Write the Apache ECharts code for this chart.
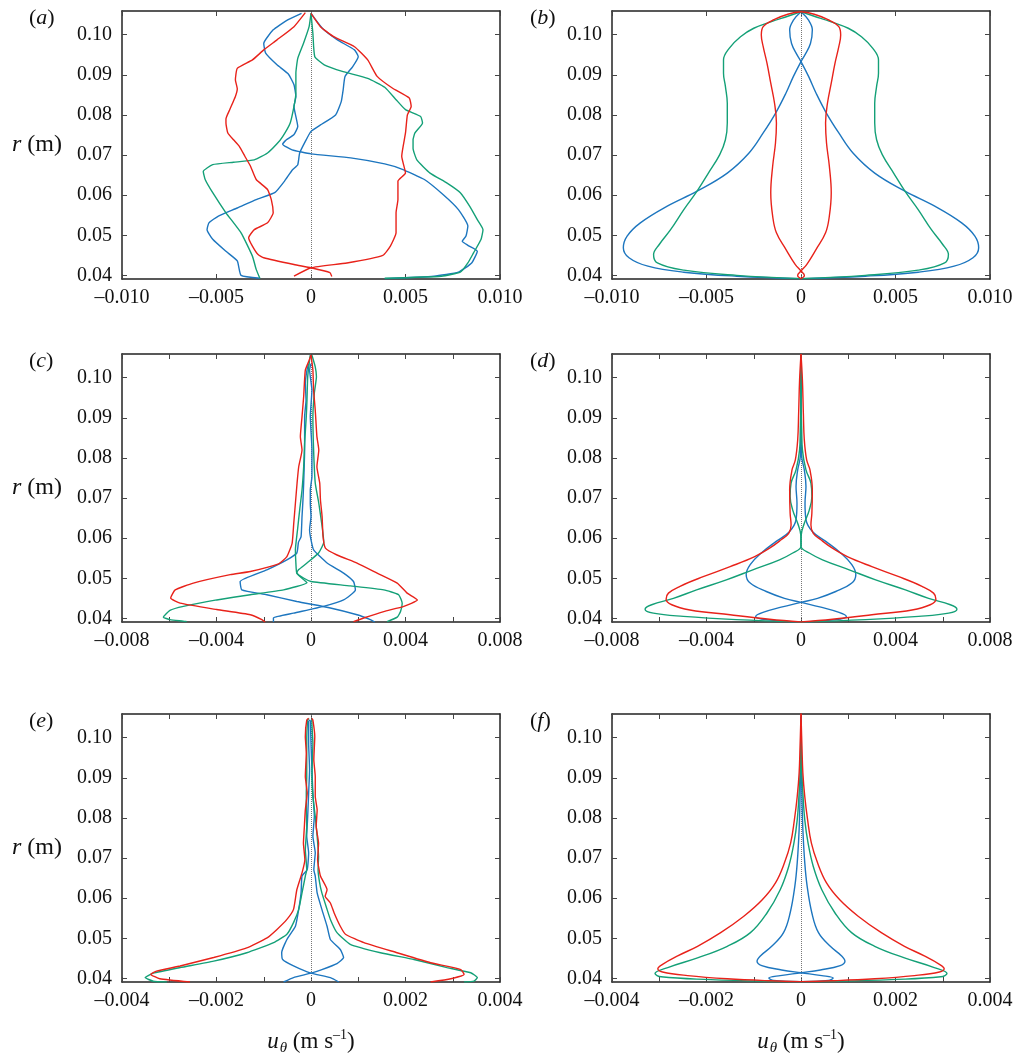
<!DOCTYPE html>
<html>
<head>
<meta charset="utf-8">
<script src="https://cdn.jsdelivr.net/npm/echarts@6/dist/echarts.min.js"></script>
<style>
  html, body { margin: 0; padding: 0; background: #fff; }
  #chart { width: 1022px; height: 1061px; }
</style>
</head>
<body>
<div id="chart"></div>
<script>
const FONT = '"Liberation Serif", "Times New Roman", serif';
const COLORS = { red: '#e8221a', green: '#14a077', blue: '#1d76bf' };

// radial axis (shared by all panels)
const R_MIN = 0.0391;
const R_MAX = 0.1059;
const rTicks = [0.04, 0.05, 0.06, 0.07, 0.08, 0.09, 0.10];

// u_theta axes
const uTicksAB = [-0.010, -0.005, 0, 0.005, 0.010];
const uLabelsAB = [-0.010, -0.005, 0, 0.005, 0.010];
const uTicksCD = [-0.008, -0.006, -0.004, -0.002, 0, 0.002, 0.004, 0.006, 0.008];
const uLabelsCD = [-0.008, -0.004, 0, 0.004, 0.008];
const uTicksEF = [-0.004, -0.003, -0.002, -0.001, 0, 0.001, 0.002, 0.003, 0.004];
const uLabelsEF = [-0.004, -0.002, 0, 0.002, 0.004];

// ---- (a) measured, [u, r] ----
const aRed1 = [[-0.0003,0.1055],[-0.0009,0.1020],[-0.0018,0.0987],[-0.0025,0.0962],[-0.0031,0.0937],[-0.0039,0.0916],[-0.0040,0.0887],[-0.0039,0.0865],[-0.0040,0.0846],[-0.0043,0.0813],[-0.0045,0.0790],[-0.0045,0.0780],[-0.0044,0.0755],[-0.0041,0.0738],[-0.0038,0.0722],[-0.0035,0.0697],[-0.0032,0.0672],[-0.0029,0.0639],[-0.0023,0.0614],[-0.0021,0.0589],[-0.0020,0.0556],[-0.0023,0.0531],[-0.0030,0.0514],[-0.0033,0.0494],[-0.0031,0.0473],[-0.0028,0.0452],[-0.0025,0.0444],[-0.0009,0.0427],[0.0000,0.0419],[0.0010,0.0407],[0.0011,0.0397]];
const aRed2 = [[0.0000,0.1053],[0.0005,0.1020],[0.0012,0.0995],[0.0023,0.0970],[0.0030,0.0937],[0.0035,0.0896],[0.0043,0.0867],[0.0052,0.0842],[0.0053,0.0821],[0.0051,0.0800],[0.0050,0.0755],[0.0048,0.0697],[0.0050,0.0655],[0.0046,0.0635],[0.0046,0.0589],[0.0045,0.0556],[0.0045,0.0506],[0.0042,0.0473],[0.0038,0.0450],[0.0019,0.0431],[0.0000,0.0419],[-0.0009,0.0398]];
const aGreen1 = [[0.0000,0.1053],[-0.0001,0.1020],[-0.0004,0.0978],[-0.0007,0.0941],[-0.0008,0.0904],[-0.0008,0.0854],[-0.0009,0.0821],[-0.0011,0.0780],[-0.0015,0.0746],[-0.0018,0.0728],[-0.0023,0.0705],[-0.0030,0.0688],[-0.0041,0.0682],[-0.0052,0.0676],[-0.0057,0.0659],[-0.0056,0.0639],[-0.0052,0.0606],[-0.0045,0.0556],[-0.0037,0.0506],[-0.0031,0.0448],[-0.0029,0.0415],[-0.0027,0.0392]];
const aGreen2 = [[0.0000,0.1053],[0.0001,0.1003],[0.0002,0.0945],[0.0007,0.0925],[0.0017,0.0908],[0.0030,0.0891],[0.0039,0.0869],[0.0045,0.0838],[0.0050,0.0813],[0.0058,0.0796],[0.0059,0.0780],[0.0055,0.0755],[0.0054,0.0738],[0.0054,0.0717],[0.0056,0.0688],[0.0063,0.0655],[0.0072,0.0630],[0.0079,0.0606],[0.0084,0.0572],[0.0088,0.0539],[0.0091,0.0514],[0.0090,0.0490],[0.0086,0.0456],[0.0083,0.0431],[0.0079,0.0408],[0.0069,0.0398],[0.0039,0.0393]];
const aBlue1 = [[-0.0005,0.1053],[-0.0013,0.1035],[-0.0020,0.1012],[-0.0025,0.0978],[-0.0024,0.0954],[-0.0018,0.0925],[-0.0012,0.0902],[-0.0009,0.0875],[-0.0008,0.0846],[-0.0009,0.0821],[-0.0007,0.0771],[-0.0009,0.0751],[-0.0013,0.0738],[-0.0015,0.0727],[-0.0010,0.0713],[0.0000,0.0703],[0.0021,0.0693],[0.0039,0.0678],[0.0048,0.0665],[0.0060,0.0639],[0.0070,0.0601],[0.0078,0.0564],[0.0083,0.0523],[0.0082,0.0498],[0.0080,0.0485],[0.0083,0.0475],[0.0088,0.0460],[0.0085,0.0431],[0.0078,0.0408],[0.0065,0.0398],[0.0039,0.0392]];
const aBlue2 = [[0.0000,0.1053],[0.0006,0.1016],[0.0014,0.0987],[0.0023,0.0962],[0.0025,0.0945],[0.0022,0.0920],[0.0018,0.0896],[0.0017,0.0862],[0.0016,0.0833],[0.0013,0.0800],[0.0005,0.0775],[0.0000,0.0759],[-0.0003,0.0734],[-0.0006,0.0705],[-0.0007,0.0676],[-0.0010,0.0662],[-0.0014,0.0635],[-0.0019,0.0607],[-0.0029,0.0589],[-0.0039,0.0568],[-0.0049,0.0548],[-0.0054,0.0531],[-0.0055,0.0514],[-0.0052,0.0490],[-0.0045,0.0460],[-0.0039,0.0436],[-0.0037,0.0400],[-0.0027,0.0393]];

// ---- (b) model ----
const bBlue1 = [[0,0.1057],[0.0004,0.1036],[0.0006,0.1012],[0.0005,0.0978],[0.0002,0.0949],[0,0.0933],[-0.0004,0.0896],[-0.0008,0.0854],[-0.00135,0.0804],[-0.0020,0.0755],[-0.00275,0.0705],[-0.0039,0.0655],[-0.0055,0.0610],[-0.0071,0.0572],[-0.0085,0.0531],[-0.0092,0.0498],[-0.0094,0.0469],[-0.0091,0.0444],[-0.0081,0.0423],[-0.0062,0.0408],[-0.0034,0.0398],[0,0.0392]];
const bBlue2 = [[0,0.1057],[-0.0004,0.1036],[-0.0006,0.1012],[-0.0005,0.0978],[-0.0002,0.0949],[0,0.0933],[0.0004,0.0896],[0.0008,0.0854],[0.00135,0.0804],[0.0020,0.0755],[0.00275,0.0705],[0.0039,0.0655],[0.0055,0.0610],[0.0071,0.0572],[0.0085,0.0531],[0.0092,0.0498],[0.0094,0.0469],[0.0091,0.0444],[0.0081,0.0423],[0.0062,0.0408],[0.0034,0.0398],[0,0.0392]];
const bGreen1 = [[0,0.1057],[-0.0007,0.1046],[-0.0016,0.1032],[-0.0025,0.1016],[-0.0032,0.0995],[-0.0038,0.0966],[-0.0041,0.0937],[-0.0041,0.0904],[-0.0040,0.0871],[-0.0039,0.0829],[-0.0039,0.0780],[-0.0040,0.0738],[-0.0043,0.0701],[-0.0049,0.0655],[-0.0055,0.0610],[-0.0062,0.0564],[-0.0069,0.0514],[-0.0075,0.0477],[-0.0078,0.0452],[-0.0076,0.0431],[-0.0062,0.0413],[-0.0034,0.0400],[0,0.0392]];
const bGreen2 = [[0,0.1057],[0.0007,0.1046],[0.0016,0.1032],[0.0025,0.1016],[0.0032,0.0995],[0.0038,0.0966],[0.0041,0.0937],[0.0041,0.0904],[0.0040,0.0871],[0.0039,0.0829],[0.0039,0.0780],[0.0040,0.0738],[0.0043,0.0701],[0.0049,0.0655],[0.0055,0.0610],[0.0062,0.0564],[0.0069,0.0514],[0.0075,0.0477],[0.0078,0.0452],[0.0076,0.0431],[0.0062,0.0413],[0.0034,0.0400],[0,0.0392]];
const bRed1 = [[0,0.1057],[-0.0007,0.1051],[-0.0014,0.1038],[-0.0020,0.1020],[-0.0021,0.0999],[-0.0020,0.0970],[-0.0018,0.0929],[-0.0016,0.0879],[-0.0014,0.0829],[-0.0013,0.0780],[-0.00135,0.0730],[-0.0015,0.0672],[-0.0016,0.0606],[-0.0015,0.0548],[-0.0013,0.0506],[-0.0008,0.0465],[-0.0003,0.0427],[0,0.0411],[0.00018,0.0400],[0,0.0392]];
const bRed2 = [[0,0.1057],[0.0007,0.1051],[0.0014,0.1038],[0.0020,0.1020],[0.0021,0.0999],[0.0020,0.0970],[0.0018,0.0929],[0.0016,0.0879],[0.0014,0.0829],[0.0013,0.0780],[0.00135,0.0730],[0.0015,0.0672],[0.0016,0.0606],[0.0015,0.0548],[0.0013,0.0506],[0.0008,0.0465],[0.0003,0.0427],[0,0.0411],[-0.00018,0.0400],[0,0.0392]];

// ---- (c) measured ----
const cRed1 = [[0,0.1056],[-0.0001,0.1040],[-0.00024,0.1019],[-0.00028,0.0986],[-0.00031,0.0953],[-0.00038,0.0903],[-0.00045,0.0853],[-0.00038,0.0820],[-0.00052,0.0778],[-0.00059,0.0737],[-0.00066,0.0687],[-0.00073,0.0637],[-0.0008,0.0587],[-0.00102,0.0554],[-0.00137,0.0536],[-0.00257,0.0517],[-0.00342,0.0509],[-0.00498,0.0488],[-0.00575,0.0471],[-0.00594,0.0451],[-0.00554,0.0438],[-0.00399,0.0422],[-0.00257,0.0409],[-0.00208,0.0397],[-0.00194,0.0391]];
const cRed2 = [[0,0.1056],[0.00008,0.1019],[0.00011,0.0969],[0.00018,0.0919],[0.00025,0.0853],[0.00033,0.0820],[0.00025,0.0778],[0.00037,0.0737],[0.0004,0.0695],[0.00047,0.0654],[0.00051,0.0604],[0.00061,0.0575],[0.0011,0.0558],[0.00195,0.0538],[0.0028,0.0513],[0.00365,0.0488],[0.00407,0.0463],[0.0045,0.0446],[0.00393,0.0430],[0.00308,0.0417],[0.00223,0.0401],[0.0018,0.0392]];
const cGreen1 = [[-0.00003,0.1056],[-0.00006,0.1044],[-0.00014,0.1002],[-0.00017,0.0944],[-0.0002,0.0903],[-0.00027,0.0836],[-0.00031,0.0778],[-0.00038,0.0720],[-0.00048,0.0670],[-0.00057,0.0621],[-0.00066,0.0571],[-0.00064,0.0538],[-0.0006,0.0513],[-0.0003,0.0500],[0,0.0492],[0.00167,0.0481],[0.00308,0.0471],[0.00371,0.0459],[0.00386,0.0438],[0.00379,0.0417],[0.00365,0.0403],[0.00322,0.0392]];
const cGreen2 = [[0.00004,0.1056],[0.00018,0.1027],[0.00023,0.1002],[0.00014,0.0961],[0.00008,0.0903],[0.00011,0.0820],[0.00018,0.0737],[0.00033,0.0687],[0.00047,0.0629],[0.00054,0.0590],[0.00032,0.0563],[-0.00017,0.0538],[-0.00053,0.0521],[-0.0006,0.0513],[-0.00038,0.0500],[-0.00017,0.0489],[-0.00116,0.0471],[-0.00257,0.0459],[-0.00399,0.0446],[-0.0054,0.0430],[-0.00597,0.0420],[-0.00625,0.0403],[-0.00597,0.0397],[-0.00526,0.0392]];
const cBlue1 = [[-0.0001,0.1035],[-0.00017,0.1019],[-0.00024,0.0986],[-0.00021,0.0944],[-0.00027,0.0903],[-0.00027,0.0820],[-0.00031,0.0737],[-0.00034,0.0695],[-0.00038,0.0654],[-0.00042,0.0604],[-0.00053,0.0590],[-0.0006,0.0563],[-0.00102,0.0546],[-0.00187,0.0521],[-0.003,0.0492],[-0.00293,0.0471],[-0.00187,0.0459],[-0.0006,0.0442],[0.00082,0.0426],[0.00195,0.0409],[0.00251,0.0397],[0.0027,0.0391]];
const cBlue2 = [[0,0.1035],[-0.00006,0.1019],[0.00004,0.0969],[-0.00003,0.0903],[0.00004,0.0820],[0.00004,0.0753],[-0.00003,0.0720],[-0.00003,0.0687],[0,0.0654],[-0.00006,0.0621],[0,0.0596],[0.00011,0.0571],[0.00068,0.0538],[0.00138,0.0513],[0.0018,0.0492],[0.00188,0.0471],[0.00138,0.0446],[0.00053,0.0430],[-0.00074,0.0413],[-0.00159,0.0401],[-0.00159,0.0391]];

// ---- (d) model ----
const dRed1 = [[0,0.1059],[-0.00006,0.0994],[-0.0001,0.0911],[-0.00014,0.0845],[-0.00024,0.0795],[-0.00038,0.0770],[-0.00048,0.0720],[-0.00046,0.0662],[-0.00042,0.0633],[-0.00052,0.0612],[-0.00084,0.0596],[-0.00133,0.0575],[-0.00196,0.0554],[-0.0030,0.0529],[-0.00414,0.0504],[-0.00512,0.0480],[-0.00561,0.0463],[-0.00571,0.0448],[-0.00547,0.0434],[-0.0047,0.0421],[-0.0030,0.0409],[-0.00133,0.0398],[0,0.0391]];
const dRed2 = [[0,0.1059],[0.00006,0.0994],[0.0001,0.0911],[0.00014,0.0845],[0.00024,0.0795],[0.00038,0.0770],[0.00048,0.0720],[0.00046,0.0662],[0.00042,0.0633],[0.00052,0.0612],[0.00084,0.0596],[0.00133,0.0575],[0.00196,0.0554],[0.0030,0.0529],[0.00414,0.0504],[0.00512,0.0480],[0.00561,0.0463],[0.00571,0.0448],[0.00547,0.0434],[0.0047,0.0421],[0.0030,0.0409],[0.00133,0.0398],[0,0.0391]];
const dGreen1 = [[0,0.1059],[0,0.0953],[0.00003,0.0870],[0.00006,0.0820],[0.00021,0.0770],[0.00042,0.0737],[0.00046,0.0704],[0.00035,0.0670],[0.00014,0.0637],[0.00001,0.0608],[0,0.0579],[-0.00035,0.0563],[-0.00091,0.0546],[-0.00204,0.0521],[-0.00316,0.0496],[-0.00442,0.0471],[-0.0054,0.0450],[-0.00632,0.0434],[-0.0066,0.0423],[-0.00625,0.0413],[-0.00498,0.0405],[-0.00274,0.0397],[0,0.0391]];
const dGreen2 = [[0,0.1059],[0,0.0953],[-0.00003,0.0870],[-0.00006,0.0820],[-0.00021,0.0770],[-0.00042,0.0737],[-0.00046,0.0704],[-0.00035,0.0670],[-0.00014,0.0637],[-0.00001,0.0608],[0,0.0579],[0.00035,0.0563],[0.00091,0.0546],[0.00204,0.0521],[0.00316,0.0496],[0.00442,0.0471],[0.0054,0.0450],[0.00632,0.0434],[0.0066,0.0423],[0.00625,0.0413],[0.00498,0.0405],[0.00274,0.0397],[0,0.0391]];
const dBlue1 = [[0,0.1055],[0,0.0870],[0.00003,0.0803],[0.00014,0.0770],[0.00021,0.0729],[0.00017,0.0687],[0.00021,0.0646],[0.00049,0.0616],[0.00105,0.0592],[0.00168,0.0563],[0.00215,0.0534],[0.00232,0.0509],[0.00215,0.0488],[0.00147,0.0467],[0.0007,0.0450],[0,0.0440],[-0.00084,0.0428],[-0.00161,0.0415],[-0.00192,0.0405],[-0.00147,0.0397],[0,0.0391]];
const dBlue2 = [[0,0.1055],[0,0.0870],[-0.00003,0.0803],[-0.00014,0.0770],[-0.00021,0.0729],[-0.00017,0.0687],[-0.00021,0.0646],[-0.00049,0.0616],[-0.00105,0.0592],[-0.00168,0.0563],[-0.00215,0.0534],[-0.00232,0.0509],[-0.00215,0.0488],[-0.00147,0.0467],[-0.0007,0.0450],[0,0.0440],[0.00084,0.0428],[0.00161,0.0415],[0.00192,0.0405],[0.00147,0.0397],[0,0.0391]];

// ---- (e) measured ----
const eRed1 = [[-0.00005,0.1048],[-0.00009,0.1044],[-0.00012,0.1003],[-0.0001,0.0961],[-0.00012,0.0903],[-0.00008,0.0862],[-0.00012,0.0820],[-0.00014,0.0779],[-0.00016,0.0737],[-0.00013,0.0696],[-0.00019,0.0663],[-0.0003,0.0621],[-0.00037,0.0572],[-0.00051,0.0547],[-0.00072,0.0522],[-0.00093,0.0501],[-0.00136,0.0476],[-0.00206,0.0452],[-0.00277,0.0431],[-0.00327,0.0418],[-0.00339,0.0410],[-0.0032,0.0399],[-0.00256,0.0391]];
const eRed2 = [[0.00002,0.1048],[0.00004,0.1044],[0.00008,0.1003],[0.00006,0.0945],[0.00009,0.0903],[0.00009,0.0854],[0.00013,0.0820],[0.00011,0.0779],[0.00016,0.0737],[0.00014,0.0696],[0.0002,0.0655],[0.00034,0.0621],[0.0003,0.0605],[0.00041,0.0588],[0.00049,0.0563],[0.00062,0.0530],[0.00073,0.0510],[0.00112,0.0489],[0.00182,0.0464],[0.00253,0.0439],[0.00317,0.0422],[0.00324,0.0410],[0.00296,0.0399],[0.00253,0.0391]];
const eGreen1 = [[-0.00004,0.1048],[-0.00007,0.1044],[-0.00009,0.0986],[-0.00009,0.0903],[-0.0001,0.0862],[-0.0001,0.0820],[-0.00009,0.0779],[-0.00012,0.0721],[-0.00009,0.0671],[-0.00012,0.0655],[-0.00019,0.0613],[-0.00026,0.0572],[-0.00037,0.0539],[-0.00051,0.0510],[-0.00079,0.0489],[-0.00136,0.0464],[-0.00206,0.0443],[-0.00277,0.0427],[-0.00334,0.0413],[-0.00351,0.0402],[-0.00334,0.0393],[-0.00305,0.0391]];
const eGreen2 = [[0.00002,0.1046],[0.00002,0.1036],[0.00004,0.0986],[0.00002,0.0903],[0.00004,0.0854],[0.00009,0.0804],[0.00013,0.0754],[0.00016,0.0704],[0.00015,0.0671],[0.00018,0.0640],[0.00023,0.0613],[0.00034,0.0572],[0.00041,0.0547],[0.00055,0.0514],[0.00083,0.0485],[0.00147,0.0464],[0.00218,0.0447],[0.00288,0.0427],[0.00338,0.0414],[0.00352,0.0402],[0.00345,0.0393],[0.00324,0.0391]];
const eBlue1 = [[-0.00002,0.1044],[-0.00005,0.1040],[-0.00005,0.0986],[-0.00003,0.0920],[-0.00005,0.0862],[-0.00007,0.0804],[-0.00009,0.0754],[-0.00005,0.0713],[-0.00008,0.0671],[-0.00019,0.0655],[-0.00021,0.0613],[-0.00026,0.0572],[-0.00033,0.0530],[-0.00051,0.0497],[-0.00062,0.0464],[-0.0006,0.0447],[-0.00037,0.0431],[0,0.0413],[0.00041,0.0402],[0.00059,0.0391]];
const eBlue2 = [[0.00001,0.1044],[-0.00001,0.1040],[0,0.0986],[0.00002,0.0920],[0.00004,0.0862],[0.00007,0.0804],[0.00004,0.0754],[0.00009,0.0713],[0.00006,0.0671],[0.00009,0.0655],[0.00013,0.0613],[0.00023,0.0572],[0.00034,0.0530],[0.00041,0.0497],[0.00062,0.0472],[0.00069,0.0452],[0.00055,0.0437],[0.00023,0.0422],[0,0.0413],[-0.00037,0.0402],[-0.00058,0.0391]];

// ---- (f) model ----
const fRed1 = [[0,0.1060],[-0.00002,0.0978],[-0.00004,0.0911],[-0.00008,0.0853],[-0.00014,0.0795],[-0.00022,0.0737],[-0.00035,0.0688],[-0.00054,0.0638],[-0.00082,0.0596],[-0.00121,0.0555],[-0.0017,0.0514],[-0.00219,0.0480],[-0.00261,0.0456],[-0.00293,0.0435],[-0.00303,0.0424],[-0.00293,0.0416],[-0.0024,0.0407],[-0.00156,0.0399],[-0.00065,0.0394],[0,0.0392]];
const fRed2 = [[0,0.1060],[0.00002,0.0978],[0.00004,0.0911],[0.00008,0.0853],[0.00014,0.0795],[0.00022,0.0737],[0.00035,0.0688],[0.00054,0.0638],[0.00082,0.0596],[0.00121,0.0555],[0.0017,0.0514],[0.00219,0.0480],[0.00261,0.0456],[0.00293,0.0435],[0.00303,0.0424],[0.00293,0.0416],[0.0024,0.0407],[0.00156,0.0399],[0.00065,0.0394],[0,0.0392]];
const fGreen1 = [[0,0.1036],[-0.00001,0.0936],[-0.00004,0.0862],[-0.00008,0.0795],[-0.00015,0.0737],[-0.00026,0.0679],[-0.00044,0.0621],[-0.00072,0.0563],[-0.00107,0.0514],[-0.00156,0.0480],[-0.00219,0.0451],[-0.00282,0.0427],[-0.00309,0.0412],[-0.00296,0.0404],[-0.00191,0.0397],[-0.00079,0.0393],[0,0.0392]];
const fGreen2 = [[0,0.1036],[0.00001,0.0936],[0.00004,0.0862],[0.00008,0.0795],[0.00015,0.0737],[0.00026,0.0679],[0.00044,0.0621],[0.00072,0.0563],[0.00107,0.0514],[0.00156,0.0480],[0.00219,0.0451],[0.00282,0.0427],[0.00309,0.0412],[0.00296,0.0404],[0.00191,0.0397],[0.00079,0.0393],[0,0.0392]];
const fBlue1 = [[0,0.1052],[0.00001,0.0936],[0.00002,0.0853],[0.00004,0.0770],[0.00008,0.0688],[0.00013,0.0630],[0.00023,0.0563],[0.00037,0.0514],[0.00062,0.0480],[0.00086,0.0456],[0.00093,0.0443],[0.00083,0.0432],[0.00041,0.0421],[0,0.0414],[-0.00044,0.0407],[-0.00068,0.0401],[-0.00058,0.0395],[0,0.0392]];
const fBlue2 = [[0,0.1052],[-0.00001,0.0936],[-0.00002,0.0853],[-0.00004,0.0770],[-0.00008,0.0688],[-0.00013,0.0630],[-0.00023,0.0563],[-0.00037,0.0514],[-0.00062,0.0480],[-0.00086,0.0456],[-0.00093,0.0443],[-0.00083,0.0432],[-0.00041,0.0421],[0,0.0414],[0.00044,0.0407],[0.00068,0.0401],[0.00058,0.0395],[0,0.0392]];

const PANELS = [
  { tag: 'a', col: 0, row: 0, ticks: uTicksAB, labels: uLabelsAB, smooth: 0.15,
    curves: [[aBlue1, 'blue'], [aBlue2, 'blue'], [aGreen1, 'green'], [aGreen2, 'green'], [aRed1, 'red'], [aRed2, 'red']] },
  { tag: 'b', col: 1, row: 0, ticks: uTicksAB, labels: uLabelsAB, smooth: 0.4,
    curves: [[bBlue1, 'blue'], [bBlue2, 'blue'], [bGreen1, 'green'], [bGreen2, 'green'], [bRed1, 'red'], [bRed2, 'red']] },
  { tag: 'c', col: 0, row: 1, ticks: uTicksCD, labels: uLabelsCD, smooth: 0.15,
    curves: [[cBlue1, 'blue'], [cBlue2, 'blue'], [cGreen1, 'green'], [cGreen2, 'green'], [cRed1, 'red'], [cRed2, 'red']] },
  { tag: 'd', col: 1, row: 1, ticks: uTicksCD, labels: uLabelsCD, smooth: 0.4,
    curves: [[dBlue1, 'blue'], [dBlue2, 'blue'], [dGreen1, 'green'], [dGreen2, 'green'], [dRed1, 'red'], [dRed2, 'red']] },
  { tag: 'e', col: 0, row: 2, ticks: uTicksEF, labels: uLabelsEF, smooth: 0.15,
    curves: [[eBlue1, 'blue'], [eBlue2, 'blue'], [eGreen1, 'green'], [eGreen2, 'green'], [eRed1, 'red'], [eRed2, 'red']] },
  { tag: 'f', col: 1, row: 2, ticks: uTicksEF, labels: uLabelsEF, smooth: 0.4,
    curves: [[fBlue1, 'blue'], [fBlue2, 'blue'], [fGreen1, 'green'], [fGreen2, 'green'], [fRed1, 'red'], [fRed2, 'red']] },
];

const GRID_LEFT = [122, 612];
const GRID_TOP = [11, 354, 714];
const GRID_W = 378;
const GRID_H = 268;

const lineBox = { color: '#222', width: 1.5 };
const tickStyle = { color: '#444', width: 1 };
const labelStyle = { fontFamily: FONT, fontSize: 20, color: '#111' };
const italic = { fontFamily: FONT, fontStyle: 'italic' };

function fmtU(v) {
  if (v === 0) return '0';
  return (v < 0 ? '\u2013' : '') + Math.abs(v).toFixed(3);
}

const grid = [], xAxis = [], yAxis = [], series = [], title = [];

PANELS.forEach((p, i) => {
  const left = GRID_LEFT[p.col];
  const top = GRID_TOP[p.row];
  grid.push({ left, top, width: GRID_W, height: GRID_H, containLabel: false });

  const xMin = p.ticks[0];
  const xMax = p.ticks[p.ticks.length - 1];
  const bottomX = {
    type: 'value', gridIndex: i, min: xMin, max: xMax, position: 'bottom',
    axisLine: { show: true, onZero: false, lineStyle: lineBox },
    axisTick: { show: true, inside: true, length: 5, customValues: p.ticks, lineStyle: tickStyle },
    axisLabel: { show: true, customValues: p.labels, formatter: fmtU, margin: 9, ...labelStyle },
    splitLine: { show: false },
  };
  if (p.row === 2) {
    Object.assign(bottomX, {
      name: '{u|u}{s|\u03b8} (m s{p|\u20131})',
      nameLocation: 'middle',
      nameGap: 45,
      nameTextStyle: {
        fontFamily: FONT, fontSize: 23, color: '#111',
        rich: {
          u: { ...italic, fontSize: 23 },
          s: { ...italic, fontSize: 15, padding: [14, 0, 0, 1] },
          p: { fontFamily: FONT, fontSize: 14, padding: [0, 0, 12, 0] },
        },
      },
    });
  }
  xAxis.push(bottomX);
  xAxis.push({
    type: 'value', gridIndex: i, min: xMin, max: xMax, position: 'top',
    axisLine: { show: true, onZero: false, lineStyle: lineBox },
    axisTick: { show: true, inside: true, length: 5, customValues: p.ticks, lineStyle: tickStyle },
    axisLabel: { show: false },
    splitLine: { show: false },
  });

  const leftY = {
    type: 'value', gridIndex: i, min: R_MIN, max: R_MAX, position: 'left',
    axisLine: { show: true, onZero: false, lineStyle: lineBox },
    axisTick: { show: true, inside: true, length: 5, customValues: rTicks, lineStyle: tickStyle },
    axisLabel: { show: true, customValues: rTicks, formatter: (v) => v.toFixed(2), margin: 10, ...labelStyle },
    splitLine: { show: false },
  };
  if (p.col === 0) {
    Object.assign(leftY, {
      name: '{r|r} (m)',
      nameLocation: 'middle',
      nameRotate: 0,
      nameGap: 60,
      nameTextStyle: {
        fontFamily: FONT, fontSize: 24, color: '#111',
        rich: { r: { ...italic, fontSize: 24 } },
      },
    });
  }
  yAxis.push(leftY);
  yAxis.push({
    type: 'value', gridIndex: i, min: R_MIN, max: R_MAX, position: 'right',
    axisLine: { show: true, onZero: false, lineStyle: lineBox },
    axisTick: { show: true, inside: true, length: 5, customValues: rTicks, lineStyle: tickStyle },
    axisLabel: { show: false },
    splitLine: { show: false },
  });

  p.curves.forEach(([pts, col], k) => {
    const s = {
      type: 'line', xAxisIndex: 2 * i, yAxisIndex: 2 * i,
      data: pts, showSymbol: false, symbol: 'none', smooth: p.smooth,
      lineStyle: { color: COLORS[col], width: 1.4 },
      silent: true, z: 3,
    };
    if (k === 0) {
      s.markLine = {
        silent: true, symbol: ['none', 'none'], z: 1, animation: false,
        label: { show: false },
        lineStyle: { color: '#777', type: 'dotted', width: 1 },
        data: [{ xAxis: 0 }],
      };
    }
    series.push(s);
  });

  title.push({
    text: '({t|' + p.tag + '})',
    left: p.col === 0 ? 24 : 525,
    top: top - 9,
    textStyle: {
      fontFamily: FONT, fontSize: 22, fontWeight: 'normal', color: '#111',
      rich: { t: { ...italic, fontSize: 22 } },
    },
  });
});

const chart = echarts.init(document.getElementById('chart'), null, { renderer: 'canvas' });
chart.setOption({
  animation: false,
  backgroundColor: '#fff',
  title, grid, xAxis, yAxis, series,
});
</script>
</body>
</html>
